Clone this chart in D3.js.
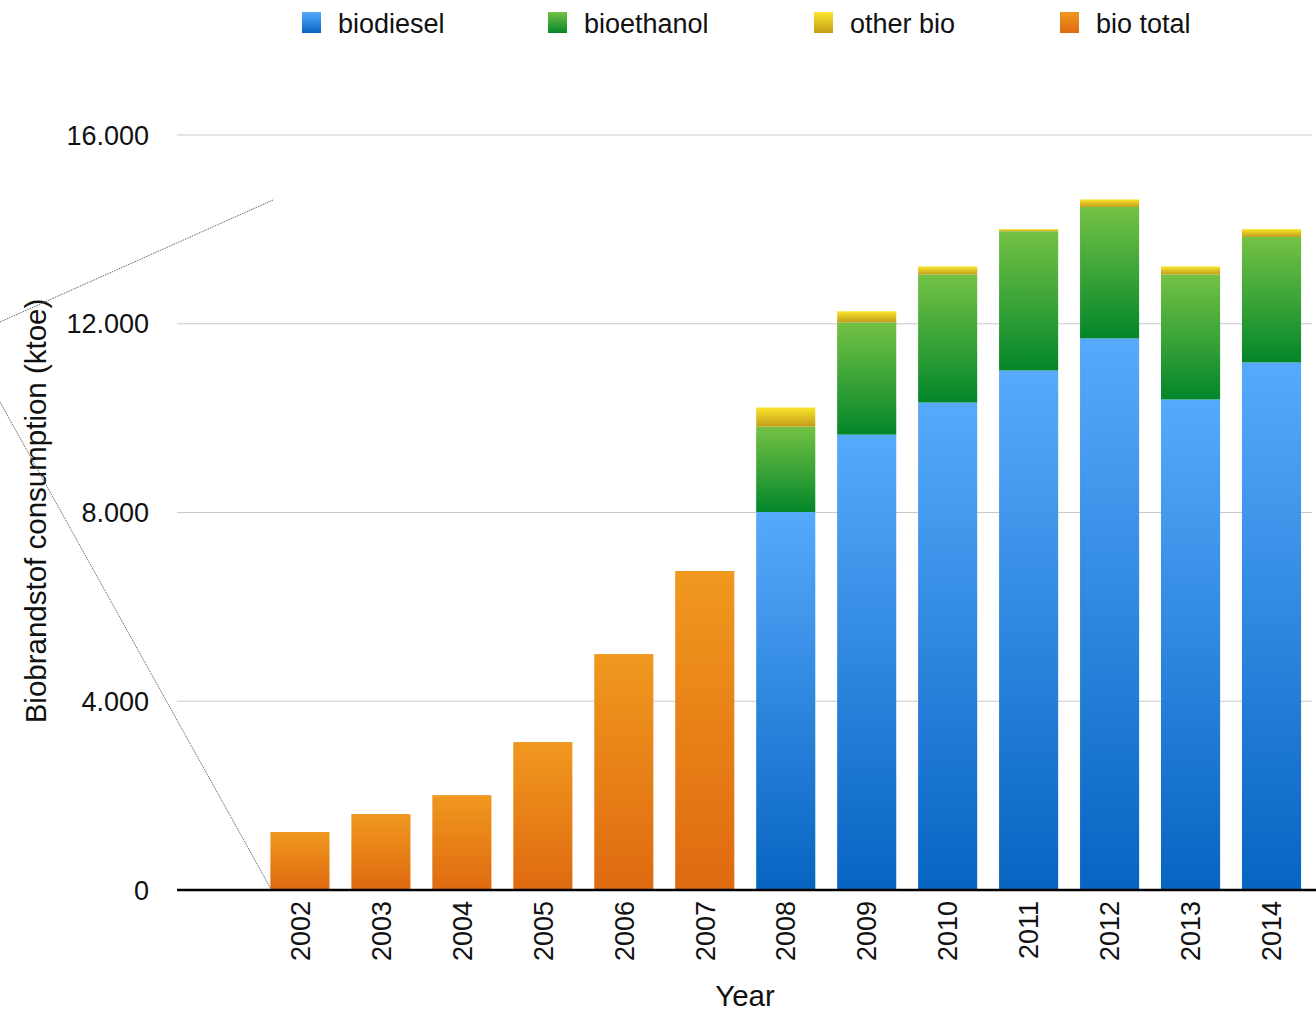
<!DOCTYPE html>
<html><head><meta charset="utf-8">
<script src="https://cdn.jsdelivr.net/npm/d3@7"></script>
<style>body{margin:0;background:#fff}svg{display:block;font-family:"Liberation Sans",Arial,Helvetica,sans-serif}</style>
</head><body><svg id="c" width="1316" height="1013"></svg>
<script>
const categories = ["", "2002","2003","2004","2005","2006","2007","2008","2009","2010","2011","2012","2013","2014"];
const biodiesel  = [null, null,null,null,null,null,null, 8010, 9650, 10330, 11010, 11690, 10395, 11180];
const bioethanol = [null, null,null,null,null,null,null, 1810, 2380, 2715, 2950, 2785, 2650, 2660];
const otherBio   = [null, null,null,null,null,null,null, 405, 235, 170, 45, 160, 170, 165];
const bioTotal   = [null, 1230, 1610, 2010, 3135, 5000, 6760, null,null,null,null,null,null,null];
const yTicks = [0, 4000, 8000, 12000, 16000];
const yTickLabels = ["0", "4.000", "8.000", "12.000", "16.000"];
const seriesNames = ["biodiesel", "bioethanol", "other bio", "bio total"];

const svg = d3.select("#c");
const defs = svg.append("defs");
const grads = {
  biodiesel: ["#56aafc", "#0764c1"],
  bioethanol: ["#74c245", "#03862a"],
  "other bio": ["#fae62c", "#c49c1a"],
  "bio total": ["#f0981f", "#df6a10"]
};
const gid = {};
Object.entries(grads).forEach(([k, c], i) => {
  const id = "g" + i; gid[k] = id;
  const g = defs.append("linearGradient").attr("id", id).attr("x1", 0).attr("y1", 0).attr("x2", 0).attr("y2", 1);
  g.append("stop").attr("offset", "0%").attr("stop-color", c[0]);
  g.append("stop").attr("offset", "100%").attr("stop-color", c[1]);
});

const x = d3.scaleBand().domain(categories).range([178.5, 1312]).paddingInner(0.27).paddingOuter(0.135);
const y = d3.scaleLinear().domain([0, 16000]).range([890, 135]);

// gridlines
svg.append("g").selectAll("line").data(yTicks.filter(d => d > 0)).join("line")
  .attr("x1", 177).attr("x2", 1312).attr("y1", d => y(d)).attr("y2", d => y(d))
  .attr("stroke", "#c9c9c9").attr("stroke-width", 1);

// y labels
svg.append("g").selectAll("text").data(yTicks).join("text")
  .attr("x", 149).attr("y", d => y(d)).attr("dy", "0.36em").attr("text-anchor", "end")
  .attr("font-size", 27).attr("fill", "#111").text((d, i) => yTickLabels[i]);

// bars
const rows = categories.map((c, i) => ({c, bd: biodiesel[i], be: bioethanol[i], ob: otherBio[i], bt: bioTotal[i]}));
const bw = x.bandwidth();
rows.forEach(r => {
  if (r.bt != null) {
    svg.append("rect").attr("x", x(r.c)).attr("width", bw).attr("y", y(r.bt)).attr("height", y(0) - y(r.bt)).attr("fill", `url(#${gid["bio total"]})`);
  }
  if (r.bd != null) {
    const segs = [[0, r.bd, "biodiesel"], [r.bd, r.bd + r.be, "bioethanol"], [r.bd + r.be, r.bd + r.be + r.ob, "other bio"]];
    segs.forEach(([a, b, k]) => {
      svg.append("rect").attr("x", x(r.c)).attr("width", bw).attr("y", y(b)).attr("height", y(a) - y(b)).attr("fill", `url(#${gid[k]})`);
    });
  }
});

// baseline
svg.append("line").attr("x1", 177).attr("x2", 1316).attr("y1", y(0)).attr("y2", y(0)).attr("stroke", "#000").attr("stroke-width", 2.5);

// x labels
svg.append("g").selectAll("text").data(categories.filter(c => c !== "")).join("text")
  .attr("transform", d => `translate(${x(d) + bw / 2},901) rotate(-90)`)
  .attr("text-anchor", "end").attr("dy", "0.36em").attr("font-size", 27).attr("fill", "#111").text(d => d);

// axis titles
svg.append("text").attr("transform", "translate(46,511) rotate(-90)").attr("text-anchor", "middle")
  .attr("font-size", 29.5).attr("fill", "#111").text("Biobrandstof consumption (ktoe)");
svg.append("text").attr("x", 745).attr("y", 1006).attr("text-anchor", "middle").attr("font-size", 29.5).attr("fill", "#111").text("Year");

// legend
const legX = [302, 548, 814, 1060];
seriesNames.forEach((n, i) => {
  svg.append("rect").attr("x", legX[i]).attr("y", 12).attr("width", 19).attr("height", 21).attr("fill", `url(#${gid[n]})`);
  svg.append("text").attr("x", legX[i] + 36).attr("y", 33).attr("font-size", 27).attr("fill", "#111").text(n);
});

// stray decorative lines from the source image
svg.append("line").attr("x1", 0).attr("y1", 322).attr("x2", 273).attr("y2", 200).attr("stroke", "#666").attr("stroke-width", 1).attr("stroke-dasharray", "1.5,1");
svg.append("line").attr("x1", 0).attr("y1", 402).attr("x2", 271).attr("y2", 889).attr("stroke", "#666").attr("stroke-width", 1).attr("stroke-dasharray", "1.5,1");
</script></body></html>
